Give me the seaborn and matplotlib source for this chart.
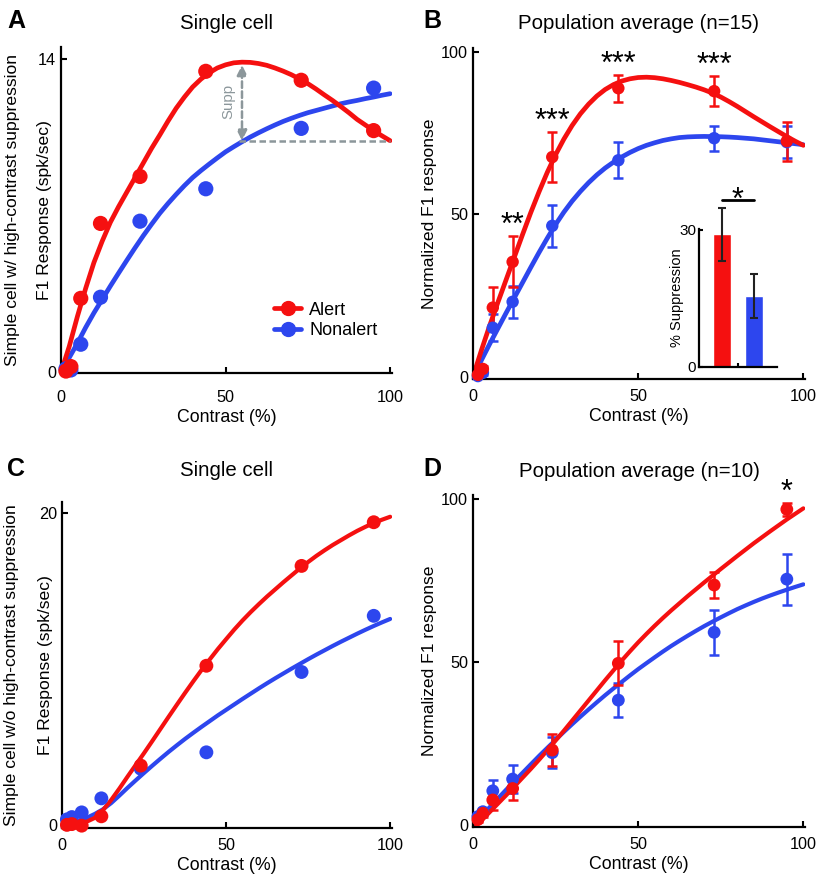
import numpy as np
import pandas as pd
import matplotlib
matplotlib.use("Agg")
import matplotlib.pyplot as plt
from matplotlib.lines import Line2D
import seaborn as sns

sns.set_theme(style="ticks", rc={"axes.edgecolor": "black", "text.color": "black",
                                 "axes.labelcolor": "black", "xtick.color": "black",
                                 "ytick.color": "black"})
plt.rcParams["font.family"] = ["Liberation Sans", "DejaVu Sans"]

RED = "#f51010"
BLUE = "#2d46ee"
GRAY = "#8c979b"

# contrasts tested (%) and the grid the fitted curves were read on (every 2.5 %)
contrast = [1.5, 3, 6, 12, 24, 44, 73, 95]
fit_contrast = [0, 2.5, 5, 7.5, 10, 12.5, 15, 17.5, 20, 22.5, 25, 27.5, 30, 32.5, 35, 37.5,
                40, 42.5, 45, 47.5, 50, 52.5, 55, 57.5, 60, 62.5, 65, 67.5, 70, 72.5, 75,
                77.5, 80, 82.5, 85, 87.5, 90, 92.5, 95, 97.5, 100]

# A - single cell with high-contrast suppression (spk/sec)
a_alert = [0.05, 0.25, 3.3, 6.65, 8.75, 13.45, 13.05, 10.8]
a_nonalert = [0.15, 0.1, 1.25, 3.35, 6.75, 8.2, 10.9, 12.7]
a_alert_fit = [0, 1.15, 2.5, 3.75, 4.9, 5.85, 6.7, 7.4, 8.05, 8.7, 9.35, 10.0, 10.6, 11.22,
               11.8, 12.3, 12.75, 13.1, 13.38, 13.6, 13.74, 13.83, 13.86, 13.85, 13.8, 13.72,
               13.6, 13.46, 13.3, 13.11, 12.9, 12.66, 12.4, 12.15, 11.88, 11.6, 11.3, 11.05,
               10.8, 10.57, 10.35]
a_nonalert_fit = [0, 0.65, 1.3, 2.0, 2.65, 3.25, 3.85, 4.43, 5.0, 5.56, 6.1, 6.61, 7.1, 7.54,
                  7.95, 8.34, 8.7, 9.01, 9.3, 9.58, 9.85, 10.08, 10.3, 10.51, 10.7, 10.88,
                  11.05, 11.21, 11.35, 11.48, 11.6, 11.7, 11.8, 11.9, 12.0, 12.08, 12.15,
                  12.23, 12.3, 12.38, 12.45]

# B - population average (n=15), normalized
b_alert = [0.6, 2.4, 21.3, 35.4, 67.7, 88.9, 88.0, 72.6]
b_alert_err = [0.8, 1.0, 6.4, 7.9, 7.7, 4.1, 4.6, 6.0]
b_nonalert = [0.2, 1.2, 15.1, 23.1, 46.5, 66.7, 73.5, 72.3]
b_nonalert_err = [0.5, 0.8, 4.2, 5.0, 6.5, 5.5, 3.8, 5.0]
b_alert_fit = [0, 8.0, 15.6, 22.8, 29.8, 36.8, 43.8, 50.6, 57.0, 63.0, 68.4, 73.2, 77.4, 81.0,
               84.0, 86.5, 88.5, 90.0, 91.1, 91.8, 92.2, 92.3, 92.15, 91.8, 91.3, 90.7, 90.0,
               89.25, 88.4, 87.4, 86.2, 84.8, 83.3, 81.7, 80.1, 78.55, 77.0, 75.5, 74.0,
               72.6, 71.3]
b_nonalert_fit = [0, 5.0, 10.0, 14.8, 19.6, 24.3, 29.0, 33.7, 38.3, 42.7, 46.9, 50.7, 54.1,
                  57.1, 59.8, 62.2, 64.3, 66.1, 67.7, 69.1, 70.3, 71.3, 72.1, 72.8, 73.3,
                  73.7, 73.9, 74.0, 74.05, 74.0, 73.95, 73.85, 73.7, 73.5, 73.3, 73.0, 72.7,
                  72.4, 72.1, 71.8, 71.5]
b_stars = ["", "", "", "**", "***", "***", "***", ""]

# inset - % suppression
supp_labels = ["Alert", "Nonalert"]
supp_mean = [29.1, 15.5]
supp_err = [5.8, 4.8]

# C - single cell without high-contrast suppression (spk/sec)
c_alert = [0.0, 0.05, -0.05, 0.55, 3.8, 10.2, 16.6, 19.4]
c_nonalert = [0.35, 0.5, 0.8, 1.7, 3.6, 4.65, 9.8, 13.4]
c_alert_fit = [0, 0.02, 0.08, 0.2, 0.45, 0.95, 1.6, 2.33, 3.1, 3.85, 4.6, 5.37, 6.15, 6.93,
               7.7, 8.46, 9.2, 9.92, 10.6, 11.27, 11.9, 12.52, 13.1, 13.64, 14.15, 14.64,
               15.1, 15.56, 16.0, 16.44, 16.85, 17.24, 17.6, 17.94, 18.25, 18.56, 18.85,
               19.11, 19.35, 19.56, 19.75]
c_nonalert_fit = [0, 0.1, 0.25, 0.45, 0.7, 1.0, 1.4, 1.88, 2.38, 2.86, 3.33, 3.79, 4.24,
                  4.68, 5.1, 5.51, 5.9, 6.28, 6.65, 7.02, 7.37, 7.72, 8.07, 8.41, 8.75, 9.08,
                  9.4, 9.71, 10.02, 10.32, 10.62, 10.91, 11.19, 11.47, 11.74, 12.0, 12.26,
                  12.51, 12.75, 12.98, 13.2]

# D - population average (n=10), normalized
d_alert = [1.7, 3.6, 7.7, 11.2, 23.0, 49.6, 73.6, 96.8]
d_alert_err = [0.8, 1.0, 3.0, 3.5, 4.9, 6.7, 3.9, 2.0]
d_nonalert = [2.6, 4.1, 10.5, 14.1, 22.2, 38.3, 59.1, 75.4]
d_nonalert_err = [0.8, 1.0, 3.3, 4.4, 4.7, 5.2, 6.9, 7.8]
d_alert_fit = [-1.2, 1.3, 3.9, 6.5, 9.1, 11.8, 14.5, 17.2, 20.0, 22.9, 25.9, 28.9, 32.0,
               35.1, 38.2, 41.3, 44.4, 47.4, 50.4, 53.25, 56.0, 58.6, 61.1, 63.5, 65.8,
               68.0, 70.2, 72.3, 74.4, 76.45, 78.5, 80.5, 82.5, 84.45, 86.4, 88.25, 90.1,
               91.9, 93.7, 95.4, 97.1]
d_nonalert_fit = [0, 2.72, 5.43, 8.12, 10.8, 13.42, 16.02, 18.62, 21.2, 23.68, 26.12, 28.54,
                  30.9, 33.2, 35.45, 37.65, 39.8, 41.86, 43.86, 45.86, 47.8, 49.63, 51.43,
                  53.2, 54.9, 56.5, 58.05, 59.55, 61.0, 62.36, 63.68, 64.96, 66.2, 67.33,
                  68.42, 69.45, 70.4, 71.3, 72.16, 73.0, 73.8]
d_stars = ["", "", "", "", "", "", "", "*"]

palette = {"Alert": RED, "Nonalert": BLUE}


def long_df(x, alert, nonalert):
    n = len(x)
    return pd.DataFrame({"contrast": list(x) * 2,
                         "response": list(nonalert) + list(alert),
                         "state": ["Nonalert"] * n + ["Alert"] * n})


def draw_panel(ax, alert, nonalert, alert_fit, nonalert_fit, s, lw,
               alert_err=None, nonalert_err=None):
    fits = long_df(fit_contrast, alert_fit, nonalert_fit)
    pts = long_df(contrast, alert, nonalert)
    for state, mean, err in [("Nonalert", nonalert, nonalert_err), ("Alert", alert, alert_err)]:
        sns.lineplot(data=fits[fits.state == state], x="contrast", y="response",
                     color=palette[state], lw=lw, ax=ax, legend=False, sort=False,
                     solid_joinstyle="round")
        if err is not None:
            ax.errorbar(contrast, mean, yerr=err, fmt="none", ecolor=palette[state],
                        elinewidth=1.8, capsize=3.5, capthick=1.8, clip_on=False)
        sns.scatterplot(data=pts[pts.state == state], x="contrast", y="response",
                        color=palette[state], s=s, edgecolor="none", ax=ax,
                        legend=False, clip_on=False, zorder=3)
    sns.despine(ax=ax)
    for sp in ax.spines.values():
        sp.set_linewidth(1.6)
    ax.tick_params(direction="in", length=4, width=1.5, labelsize=11.7)
    ax.set_xlim(0, 100.5)
    ax.set_xticks([0, 50, 100])
    ax.set_xlabel("Contrast (%)", fontsize=12.8, labelpad=3)


def add_stars(ax, mean, err, stars):
    for x, m, e, st in zip(contrast, mean, err, stars):
        if st:
            ax.annotate(st, xy=(x, m + e), xytext=(0, 1.5), textcoords="offset points",
                        ha="center", va="baseline", fontsize=22, annotation_clip=False)


fig = plt.figure(figsize=(8.2, 8.8), dpi=100)

ax_a = fig.add_axes([0.0744, 0.5758, 0.4033, 0.3711])
ax_b = fig.add_axes([0.5768, 0.5693, 0.4049, 0.3758])
ax_c = fig.add_axes([0.0756, 0.0591, 0.4022, 0.3705])
ax_d = fig.add_axes([0.5768, 0.0602, 0.4049, 0.3773])
ax_in = fig.add_axes([0.8524, 0.5830, 0.0951, 0.1568])

# A
draw_panel(ax_a, a_alert, a_nonalert, a_alert_fit, a_nonalert_fit, s=120, lw=3.4)
ax_a.set_ylim(-0.05, 14.55)
ax_a.set_yticks([0, 14])
ax_a.tick_params(axis="x", pad=12)
ax_a.set_title("Single cell", fontsize=14.7, pad=13)
ax_a.set_ylabel("F1 Response (spk/sec)", fontsize=12.6)
ax_a.yaxis.set_label_coords(-0.026, 0.5)
ax_a.text(-0.148, 0.5, "Simple cell w/ high-contrast suppression", transform=ax_a.transAxes,
          rotation=90, ha="center", va="center", fontsize=12.6)

peak = int(np.argmax(a_alert_fit))
x_supp = fit_contrast[peak]
top, bottom = a_alert_fit[peak], a_alert_fit[-1]
ax_a.plot([x_supp - 1, fit_contrast[-1]], [bottom, bottom], color=GRAY, lw=1.8,
          ls=(0, (2.6, 1.4)))
ax_a.annotate("", xy=(x_supp, top), xytext=(x_supp, bottom),
              arrowprops=dict(arrowstyle="<|-|>", color=GRAY, lw=1.8, ls=(0, (2.6, 1.4)),
                              shrinkA=0, shrinkB=2, mutation_scale=15))
ax_a.text(x_supp - 4, (top + bottom) / 2, "Supp", rotation=90, color=GRAY,
          fontsize=10.8, ha="center", va="center")

handles = [Line2D([], [], color=RED, lw=3.4, marker="o", ms=10),
           Line2D([], [], color=BLUE, lw=3.4, marker="o", ms=10)]
ax_a.legend(handles, ["Alert", "Nonalert"], loc="center left",
            bbox_to_anchor=(0.644, 0.162), frameon=False, fontsize=13,
            borderaxespad=0, borderpad=0, handlelength=1.5, handletextpad=0.45,
            labelspacing=0.2)

# B
draw_panel(ax_b, b_alert, b_nonalert, b_alert_fit, b_nonalert_fit, s=80, lw=3.4,
           alert_err=b_alert_err, nonalert_err=b_nonalert_err)
ax_b.set_ylim(-0.7, 101.2)
ax_b.set_yticks([0, 50, 100])
ax_b.tick_params(axis="x", pad=7)
ax_b.set_title("Population average (n=15)", fontsize=14.7, pad=14)
ax_b.set_ylabel("Normalized F1 response", fontsize=12.6)
ax_b.yaxis.set_label_coords(-0.109, 0.5)
add_stars(ax_b, b_alert, b_alert_err, b_stars)

# inset
sns.barplot(x=supp_labels, y=supp_mean, hue=supp_labels, palette=[RED, BLUE],
            width=0.56, saturation=1, legend=False, ax=ax_in)
ax_in.errorbar([0, 1], supp_mean, yerr=supp_err, fmt="none", ecolor="#222222",
               elinewidth=1.5, capsize=3, capthick=1.5, clip_on=False)
ax_in.patch.set_alpha(0)
sns.despine(ax=ax_in)
for sp in ax_in.spines.values():
    sp.set_linewidth(1.6)
ax_in.set_xlim(-0.72, 1.72)
ax_in.set_ylim(0, 30.2)
ax_in.set_yticks([0, 30])
ax_in.set_xticks([0.5])
ax_in.set_xticklabels([""])
ax_in.tick_params(direction="in", length=3, width=1.5, labelsize=11, pad=2)
ax_in.set_ylabel("% Suppression", fontsize=10.5)
ax_in.yaxis.set_label_coords(-0.19, 0.5)
sig_y = max(m + e for m, e in zip(supp_mean, supp_err)) + 1.6
ax_in.plot([0, 1], [sig_y, sig_y], color="black", lw=2, clip_on=False)
ax_in.annotate("*", xy=(0.5, sig_y), xytext=(0, -6), textcoords="offset points",
               ha="center", va="baseline", fontsize=22, annotation_clip=False)

# C
draw_panel(ax_c, c_alert, c_nonalert, c_alert_fit, c_nonalert_fit, s=100, lw=3.0)
ax_c.set_ylim(-0.2, 20.7)
ax_c.set_yticks([0, 20])
ax_c.tick_params(axis="x", pad=7)
ax_c.set_title("Single cell", fontsize=14.7, pad=18.5)
ax_c.set_ylabel("F1 Response (spk/sec)", fontsize=12.6)
ax_c.yaxis.set_label_coords(-0.026, 0.5)
ax_c.text(-0.152, 0.5, "Simple cell w/o high-contrast suppression", transform=ax_c.transAxes,
          rotation=90, ha="center", va="center", fontsize=12.6)

# D
draw_panel(ax_d, d_alert, d_nonalert, d_alert_fit, d_nonalert_fit, s=85, lw=3.0,
           alert_err=d_alert_err, nonalert_err=d_nonalert_err)
ax_d.set_ylim(-0.6, 101.2)
ax_d.set_yticks([0, 50, 100])
ax_d.tick_params(axis="x", pad=7)
ax_d.set_title("Population average (n=10)", fontsize=14.7, pad=13)
ax_d.set_ylabel("Normalized F1 response", fontsize=12.6)
ax_d.yaxis.set_label_coords(-0.109, 0.5)
add_stars(ax_d, d_alert, d_alert_err, d_stars)

for letter, x, y in [("A", 7, 28), ("B", 423, 28), ("C", 7, 476), ("D", 423, 476)]:
    fig.text(x / 820, 1 - y / 880, letter, fontsize=18, fontweight="bold", va="baseline")

fig.savefig("out.png", dpi=100)
